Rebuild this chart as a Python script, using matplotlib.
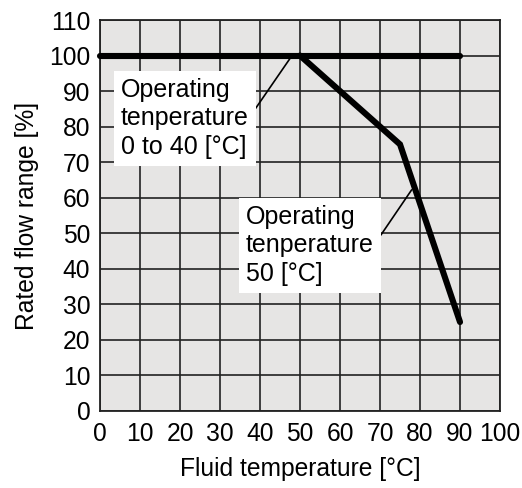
import matplotlib
matplotlib.use("Agg")
import matplotlib.pyplot as plt

plt.rcParams['font.family'] = ['Liberation Sans', 'DejaVu Sans']

# Data
x_range = [0, 90]
y_range = [100, 100]
x_50 = [50, 75, 90]
y_50 = [100, 75, 25]
xticks = list(range(0, 101, 10))
yticks = list(range(0, 111, 10))

fs = 17.7
fig = plt.figure(figsize=(5.22, 4.88), dpi=100)
ax = fig.add_axes([0.1916, 0.158, 0.7663, 0.801])
ax.set_facecolor('#e6e5e4')
ax.set_xlim(0, 100)
ax.set_ylim(0, 110)
ax.set_xticks(xticks)
ax.set_yticks(yticks)
ax.grid(True, color='#222222', linewidth=1.2)
ax.set_axisbelow(True)
ax.tick_params(axis='x', length=0, labelsize=fs, pad=8)
ax.tick_params(axis='y', length=0, labelsize=fs, pad=7)
for s in ax.spines.values():
    s.set_linewidth(1.3)
    s.set_color('#222222')

ax.plot(x_range, y_range, color='black', lw=4.4, solid_capstyle='round', zorder=5, clip_on=False)
ax.plot(x_50, y_50, color='black', lw=4.4, solid_capstyle='round', solid_joinstyle='miter', zorder=5, clip_on=False)

ax.set_xlabel('Fluid temperature [°C]', fontsize=fs, labelpad=8)
ax.set_ylabel('Rated flow range [%]', fontsize=fs, labelpad=7)

bbox = dict(boxstyle='square,pad=0.28', fc='white', ec='none')
ax.annotate('Operating\ntenperature\n0 to 40 [°C]', xy=(48, 100), xytext=(5.2, 82.3),
            fontsize=18, va='center', ha='left', linespacing=1.25, bbox=bbox,
            arrowprops=dict(arrowstyle='-', color='black', lw=1.2, shrinkA=0, shrinkB=0,
                            relpos=(1.0, 0.5)), zorder=6)
ax.annotate('Operating\ntenperature\n50 [°C]', xy=(77.9, 62.2), xytext=(36.5, 46.6),
            fontsize=18, va='center', ha='left', linespacing=1.25, bbox=bbox,
            arrowprops=dict(arrowstyle='-', color='black', lw=1.2, shrinkA=0, shrinkB=0,
                            relpos=(1.0, 0.5)), zorder=6)

fig.savefig('out.png', dpi=100)
